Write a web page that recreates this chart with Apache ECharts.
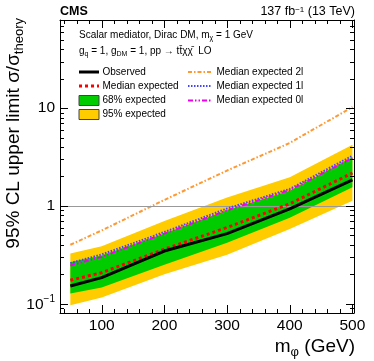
<!DOCTYPE html>
<html><head><meta charset="utf-8">
<script src="https://cdn.jsdelivr.net/npm/echarts@6/dist/echarts.min.js"></script>
<style>html,body{margin:0;padding:0;background:#fff}#c{width:374px;height:361px}</style>
</head><body><div id="c"></div>
<script>
// ---- data ----
const masses     = [50, 100, 200, 300, 400, 500];
const observed   = [0.151, 0.184, 0.345, 0.52, 0.93, 1.85];
const medianExp  = [0.173, 0.207, 0.36, 0.60, 1.05, 2.17];
const band68Lo   = [0.127, 0.146, 0.25, 0.42, 0.755, 1.55];
const band68Hi   = [0.265, 0.31, 0.52, 0.90, 1.43, 3.15];
const band95Lo   = [0.096, 0.115, 0.20, 0.316, 0.58, 1.13];
const band95Hi   = [0.326, 0.387, 0.70, 1.22, 1.96, 4.22];
const median2l   = [0.40, 0.56, 1.15, 2.3, 4.4, 10.3];
const median1l   = [0.26, 0.318, 0.54, 0.94, 1.49, 3.26];
const median0l   = [0.245, 0.30, 0.52, 0.90, 1.45, 3.09];
const xMajorTicks = [100, 200, 300, 400, 500];
const xMinorTicks = [40, 60, 80, 120, 140, 160, 180, 220, 240, 260, 280, 320, 340, 360, 380, 420, 440, 460, 480];
const yMajorTicks = [0.1, 1, 10];
const yMinorTicks = [0.09, 0.2, 0.3, 0.4, 0.5, 0.6, 0.7, 0.8, 0.9, 2, 3, 4, 5, 6, 7, 8, 9, 20, 30, 40, 50, 60, 70];
const xRange = [33.5, 502.5];
const yRange = [0.08, 80];

const FONT = '"Liberation Sans", Arial, Helvetica, sans-serif';
const chart = echarts.init(document.getElementById('c'), null, {renderer: 'canvas'});

function pairs(ys) { return masses.map((m, i) => [m, ys[i]]); }

function bandSeries(name, lo, hi, color, z) {
  return {
    name, type: 'custom', z, silent: true, coordinateSystem: 'cartesian2d',
    data: [[masses[0], lo[0]]],
    renderItem(params, api) {
      const pts = [];
      for (let i = 0; i < masses.length; i++) pts.push(api.coord([masses[i], hi[i]]));
      for (let i = masses.length - 1; i >= 0; i--) pts.push(api.coord([masses[i], lo[i]]));
      return {type: 'polygon', shape: {points: pts}, style: {fill: color}};
    }
  };
}

function tickSeries(values, axis, len) {
  return {
    type: 'custom', z: 20, silent: true, clip: false, coordinateSystem: 'cartesian2d',
    data: values.map(v => axis === 'x' ? [v, 1] : [masses[0], v]),
    renderItem(params, api) {
      const cs = params.coordSys;
      const st = {stroke: '#000', lineWidth: 1};
      if (axis === 'x') {
        const px = Math.round(api.coord([api.value(0), 1])[0]) + 0.5;
        const yb = cs.y + cs.height, yt = cs.y;
        return {type: 'group', children: [
          {type: 'line', shape: {x1: px, y1: yb, x2: px, y2: yb - len}, style: st},
          {type: 'line', shape: {x1: px, y1: yt, x2: px, y2: yt + len}, style: st}
        ]};
      } else {
        const py = Math.round(api.coord([masses[0], api.value(1)])[1]) + 0.5;
        const xl = cs.x, xr = cs.x + cs.width;
        return {type: 'group', children: [
          {type: 'line', shape: {x1: xl, y1: py, x2: xl + len, y2: py}, style: st},
          {type: 'line', shape: {x1: xr, y1: py, x2: xr - len, y2: py}, style: st}
        ]};
      }
    }
  };
}

function lineSeries(name, ys, color, width, type, z) {
  return {
    name, type: 'line', data: pairs(ys), symbol: 'none', z, silent: true,
    lineStyle: {color, width, type}, animation: false
  };
}

const isPow10 = v => Math.abs(Math.log10(v) - Math.round(Math.log10(v))) < 1e-6;

const axisLineStyle = {show: true, lineStyle: {color: '#000', width: 1}};

// legend drawn as graphic elements
const legCol1 = 79, legCol2 = 188, legRows = [72, 86, 100.5, 114.5];
function legLine(x, y, w, color, width, dash) {
  return {type: 'line', shape: {x1: x, y1: y, x2: x + w, y2: y},
          style: {stroke: color, lineWidth: width, lineDash: dash}};
}
function legBox(x, y, color) {
  return {type: 'rect', shape: {x: x, y: y - 5, width: 20, height: 10},
          style: {fill: color, stroke: '#444', lineWidth: 1}};
}
function legText(x, y, text) {
  return {type: 'text', x: x, y: y, style: {text, font: '10px ' + FONT, fill: '#000', verticalAlign: 'middle', align: 'left'}};
}

const graphics = [
  {type: 'text', x: 60, y: 12, style: {text: 'CMS', font: 'bold 12.5px ' + FONT, fill: '#000', verticalAlign: 'middle'}},
  {type: 'text', x: 355, y: 12, style: {
    text: '137 fb{sup|−1} (13 TeV)', align: 'right', verticalAlign: 'middle',
    font: '12.5px ' + FONT, fill: '#000',
    rich: {sup: {fontSize: 8, fontFamily: FONT, verticalAlign: 'top', lineHeight: 8}}
  }},
  {type: 'text', x: 79, y: 35, style: {
    text: 'Scalar mediator, Dirac DM, m{sub|χ} = 1 GeV', verticalAlign: 'middle', align: 'left',
    font: '10px ' + FONT, fill: '#000', lineHeight: 13,
    rich: {sub: {fontSize: 7, fontFamily: FONT, verticalAlign: 'bottom', lineHeight: 8}}
  }},
  {type: 'text', x: 79, y: 51, style: {
    text: 'g{sub|q} = 1, g{sub|DM} = 1, pp → tt\u0304χχ\u0304  LO', verticalAlign: 'middle', align: 'left',
    font: '10px ' + FONT, fill: '#000', lineHeight: 13,
    rich: {sub: {fontSize: 7, fontFamily: FONT, verticalAlign: 'bottom', lineHeight: 8}}
  }},
  legLine(legCol1, legRows[0], 20, '#000', 3, null), legText(102.5, legRows[0], 'Observed'),
  legLine(legCol1, legRows[1], 20, '#ff0000', 3, [3, 3]), legText(102.5, legRows[1], 'Median expected'),
  legBox(legCol1, legRows[2], '#00cc00'), legText(102.5, legRows[2], '68% expected'),
  legBox(legCol1, legRows[3], '#ffcc00'), legText(102.5, legRows[3], '95% expected'),
  legLine(legCol2, legRows[0], 24, '#ff9933', 2, [4, 2, 1.5, 2]), legText(216.5, legRows[0], 'Median expected 2l'),
  legLine(legCol2, legRows[1], 24, '#4444ff', 2, [1.5, 1.5]), legText(216.5, legRows[1], 'Median expected 1l'),
  legLine(legCol2, legRows[2], 24, '#ee00ee', 2, [5, 2, 1.5, 2, 1.5, 2]), legText(216.5, legRows[2], 'Median expected 0l'),
  // axis titles
  {type: 'text', x: 14, y: 18, rotation: Math.PI / 2, style: {
    text: '95% CL upper limit σ/σ{sub|theory}', align: 'right', verticalAlign: 'middle',
    font: '19px ' + FONT, fill: '#000', lineHeight: 23,
    rich: {sub: {fontSize: 13, fontFamily: FONT, verticalAlign: 'bottom', lineHeight: 14}}
  }},
  {type: 'text', x: 355, y: 347, style: {
    text: 'm{sub|φ} (GeV)', align: 'right', verticalAlign: 'middle',
    font: '19px ' + FONT, fill: '#000', lineHeight: 23,
    rich: {sub: {fontSize: 13, fontFamily: FONT, verticalAlign: 'bottom', lineHeight: 14}}
  }}
];

const option = {
  animation: false,
  backgroundColor: '#fff',
  textStyle: {fontFamily: FONT},
  grid: {left: 60, top: 20, right: 20, bottom: 48, containLabel: false, outerBoundsMode: 'none'},
  xAxis: [
    {type: 'value', min: xRange[0], max: xRange[1], position: 'bottom',
     axisLine: axisLineStyle, axisTick: {show: false}, splitLine: {show: false},
     axisLabel: {customValues: xMajorTicks, color: '#000', fontSize: 15.5, fontFamily: FONT, margin: 5}},
    {type: 'value', min: xRange[0], max: xRange[1], position: 'top',
     axisLine: axisLineStyle, axisTick: {show: false}, splitLine: {show: false}, axisLabel: {show: false}}
  ],
  yAxis: [
    {type: 'log', logBase: 10, min: yRange[0], max: yRange[1], position: 'left',
     axisLine: axisLineStyle, axisTick: {show: false}, splitLine: {show: false},
     axisLabel: {
       color: '#000', fontSize: 15.5, fontFamily: FONT, margin: 5, showMinLabel: false, showMaxLabel: false,
       formatter: v => {
         if (!isPow10(v)) return '';
         const e = Math.round(Math.log10(v));
         if (e === 0) return '1';
         if (e === 1) return '10';
         return '{b|10}{sup|−' + (-e) + '}';
       },
       rich: {b: {fontSize: 15.5, fontFamily: FONT, color: '#000', verticalAlign: 'bottom', lineHeight: 18},
              sup: {fontSize: 10, fontFamily: FONT, color: '#000', verticalAlign: 'top', lineHeight: 10}}
     }},
    {type: 'log', logBase: 10, min: yRange[0], max: yRange[1], position: 'right',
     axisLine: axisLineStyle, axisTick: {show: false}, splitLine: {show: false}, axisLabel: {show: false}}
  ],
  series: [
    bandSeries('95% expected', band95Lo, band95Hi, '#ffcc00', 1),
    bandSeries('68% expected', band68Lo, band68Hi, '#00cc00', 2),
    {type: 'line', data: [], z: 3, silent: true,
     markLine: {silent: true, symbol: 'none', label: {show: false},
                lineStyle: {color: '#999', width: 1, type: 'solid'},
                data: [{yAxis: 1}], animation: false}},
    lineSeries('Median expected 2l', median2l, '#ff9933', 2, [4, 2, 1.5, 2], 4),
    lineSeries('Median expected 1l', median1l, '#4444ff', 2, [1.5, 1.5], 5),
    lineSeries('Median expected 0l', median0l, '#ee00ee', 2, [5, 2, 1.5, 2, 1.5, 2], 6),
    lineSeries('Median expected', medianExp, '#ff0000', 3, [3, 3], 7),
    lineSeries('Observed', observed, '#000000', 3, 'solid', 8),
    tickSeries(xMajorTicks, 'x', 8),
    tickSeries(xMinorTicks, 'x', 4),
    tickSeries(yMajorTicks, 'y', 8),
    tickSeries(yMinorTicks, 'y', 4)
  ],
  graphic: graphics
};
chart.setOption(option);
</script></body></html>
